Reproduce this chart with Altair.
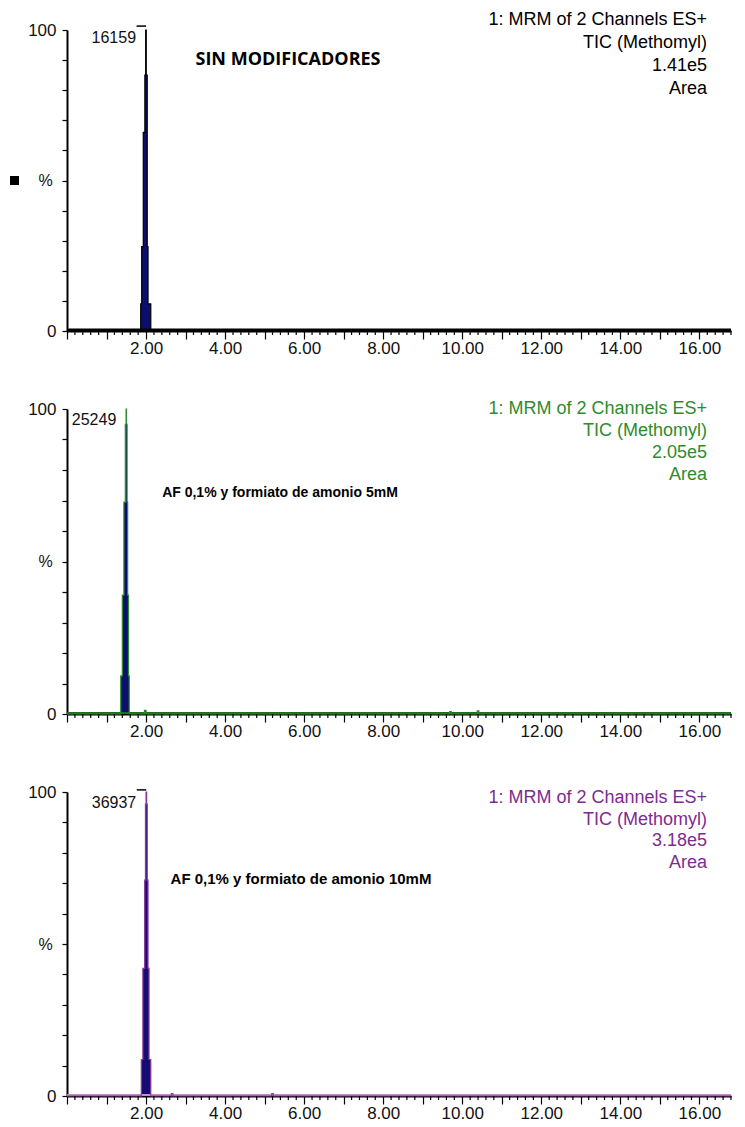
import altair as alt
import pandas as pd

X_MAX = 16.8
W = 664

# ---- data (time in min, relative intensity %) ----
p1_time = [0.0, 1.865, 1.89, 1.93, 1.97, 1.99, 2.005, 2.03, 2.05, 2.12, 16.8]
p1_pct = [0, 9, 28, 66, 85, 100, 85, 28, 9, 0, 0]

p2_time = [0.0, 1.36, 1.40, 1.44, 1.475, 1.495, 1.505, 1.52, 1.535, 1.555, 1.575,
           1.96, 2.0, 9.68, 9.72, 10.38, 10.42, 16.8]
p2_pct = [0, 12.5, 39, 69.5, 95, 100, 95, 69.5, 39, 12.5, 0, 1.2, 0, 0.8, 0, 1.0, 0, 0]

p3_time = [0.0, 1.88, 1.92, 1.965, 1.985, 2.00, 2.015, 2.03, 2.05, 2.075, 2.12,
           2.64, 2.68, 5.18, 5.22, 16.8]
p3_pct = [0, 12, 42, 71, 96, 100, 96, 71, 42, 12, 0, 0.8, 0, 0.8, 0, 0]

peak_times = [2.0, 1.5, 2.005]
peak_labels = ["16159", "25249", "36937"]
titles = ["SIN MODIFICADORES", "AF 0,1% y formiato de amonio 5mM",
          "AF 0,1% y formiato de amonio 10mM"]
info_1 = ["1: MRM of 2 Channels ES+", "TIC (Methomyl)", "1.41e5", "Area"]
info_2 = ["1: MRM of 2 Channels ES+", "TIC (Methomyl)", "2.05e5", "Area"]
info_3 = ["1: MRM of 2 Channels ES+", "TIC (Methomyl)", "3.18e5", "Area"]
minor_ticks = [round(0.2 * k, 1) for k in range(0, 85) if k % 5 != 0]

FONT = "Liberation Sans"


def panel(t, v, H, line_color, base_color, base_width, fill, text_color, info, info_y, info_lh,
          title, title_x, title_y, title_font, title_size, peak_t, peak_label,
          label_dy, bracket_y=None, square=False):
    df = pd.DataFrame({"t": t, "v": v})
    xaxis = alt.Axis(values=list(range(0, 17)), tickSize=8, tickWidth=1.2, tickColor="black",
                     domainColor="black", domainWidth=2, grid=False, title=None,
                     labelExpr="datum.value > 0 && datum.value % 2 == 0 ? format(datum.value, '.2f') : ''",
                     labelFont=FONT, labelFontSize=17, labelColor="#111", labelPadding=1)
    yaxis = alt.Axis(values=list(range(0, 101, 10)), tickSize=5, tickWidth=1.2, tickColor="black",
                     domainColor="black", domainWidth=2, grid=False, title="%",
                     titleAngle=0, titleX=-22, titleY=H / 2, titleAlign="center",
                     titleBaseline="middle", titleFont=FONT, titleFontSize=16,
                     titleFontWeight="normal", titleColor="#111",
                     labelExpr="datum.value == 0 || datum.value == 100 ? datum.label : ''",
                     labelFont=FONT, labelFontSize=17, labelColor="#111", labelPadding=6)
    X = alt.X("t:Q", scale=alt.Scale(domain=[0, X_MAX], nice=False, zero=False), axis=xaxis)
    Y = alt.Y("v:Q", scale=alt.Scale(domain=[0, 100], nice=False), axis=yaxis)

    area = alt.Chart(df).mark_area(interpolate="step-after", color=fill, opacity=1).encode(x=X, y=Y)
    base = alt.Chart(pd.DataFrame({"t": [0.0, X_MAX], "v": [0, 0]})).mark_line(
        color=base_color, strokeWidth=base_width, yOffset=-1).encode(x=X, y=Y)
    line = alt.Chart(df).mark_line(interpolate="step-after", color=line_color,
                                   strokeWidth=1.2).encode(x=X, y=Y)
    ticks = alt.Chart(pd.DataFrame({"t": minor_ticks})).mark_rule(
        color="black", strokeWidth=1.2).encode(x=X, y=alt.value(H), y2=alt.value(H + 4))
    plabel = alt.Chart(pd.DataFrame({"t": [peak_t], "v": [100], "lab": [peak_label]})).mark_text(
        align="right", baseline="middle", dx=-10, dy=label_dy, font=FONT, fontSize=16,
        color="#111").encode(x=X, y=Y, text="lab:N")
    one = pd.DataFrame({"a": [0]})
    info_txt = alt.Chart(one).mark_text(
        align="right", baseline="top", lineBreak="\n", lineHeight=info_lh, font=FONT,
        fontSize=18, color=text_color).encode(
        x=alt.value(640), y=alt.value(info_y), text=alt.value("\n".join(info)))
    ttl = alt.Chart(one).mark_text(
        align="center", baseline="middle", font=title_font, fontSize=title_size,
        fontWeight="bold", color="black").encode(
        x=alt.value(title_x), y=alt.value(title_y), text=alt.value(title))
    layers = [area, base, line, ticks, plabel, info_txt, ttl]
    if bracket_y is not None:
        br = alt.Chart(pd.DataFrame({"t": [peak_t - 0.24], "t2": [peak_t], "v": [bracket_y]})).mark_rule(
            color="black", strokeWidth=1.5).encode(x=X, x2="t2:Q", y=Y)
        layers.append(br)
    if square:
        sq = alt.Chart(one).mark_square(size=81, color="black", opacity=1).encode(
            x=alt.value(-52.5), y=alt.value(H / 2))
        layers.append(sq)
    return alt.layer(*layers).properties(width=W, height=H)


c1 = panel(p1_time, p1_pct, 301, "black", "black", 3, "#0c0e6e", "black", info_1, -19, 23,
           titles[0], 221, 30, "Open Sans", 18, peak_times[0], peak_labels[0], 8,
           bracket_y=101.3, square=True)
c2 = panel(p2_time, p2_pct, 305, "#2e8b2e", "#1f6b1f", 2, "#0c0e6e", "#2e8b2e", info_2, -9, 22,
           titles[1], 213, 84, FONT, 14, peak_times[1], peak_labels[1], 11)
c3 = panel(p3_time, p3_pct, 304, "#8a3a9a", "#c98ad0", 2, "#170c72", "#7e2b8f", info_3, -3, 21.7,
           titles[2], 234, 87, FONT, 15, peak_times[2], peak_labels[2], 11,
           bracket_y=100.7)

chart = alt.vconcat(
    c1,
    alt.vconcat(c2, c3, spacing=44),
    spacing=44,
).properties(
    padding={"left": 2, "top": 3, "right": 0, "bottom": 0},
    background="white",
).configure_view(stroke=None)

chart.save("out.html", embed_options={"renderer": "svg", "actions": False})
